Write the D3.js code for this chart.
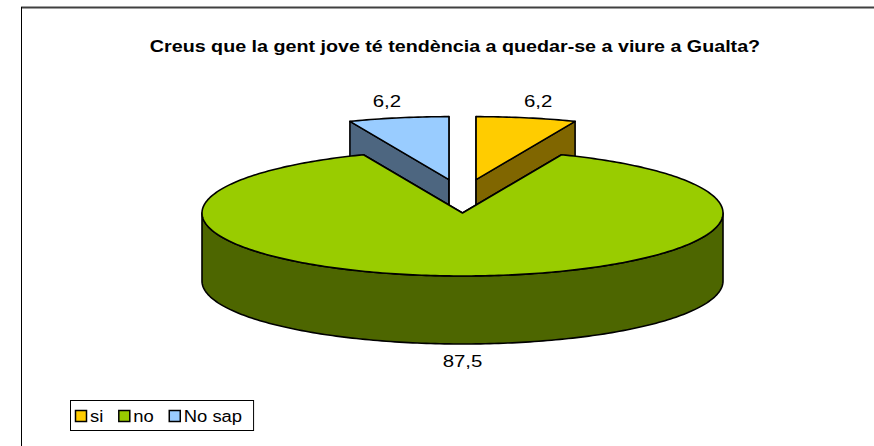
<!DOCTYPE html>
<head>
   <meta charset="utf-8">
   <script src="https://d3js.org/d3.v7.min.js"></script>
   <style>
   body{ margin:0; background:#fff; }
   text{
      font-family: "Liberation Sans", Arial, sans-serif;
      fill: #000;
   }
   text.title{ font-size:16px; font-weight:700; }
   text.valueLabel{ font-size:17px; }
   text.legendLabel{ font-size:16px; }
   path.face{ stroke:#000; stroke-width:1.6; stroke-linejoin:round; }
   </style>
</head>
<body>
<script>
// data
const categories  = ["si", "no", "No sap"];
const values      = [6.2, 87.5, 6.2];
const valueText   = ["6,2", "87,5", "6,2"];
const topColours  = ["#FFCC00", "#99CC00", "#99CCFF"];
const sideColours = ["#806600", "#4D6600", "#4D6680"];
const exploded    = [true, false, true];

const title = "Creus que la gent jove té tendència a quedar-se a viure a Gualta?";

const width = 874, height = 446;
const cx = 462.5, cy = 213;      // pie centre (top face)
const rx = 260.5, ry = 63;       // ellipse radii
const depth = 68;                // thickness of the pie
const explodeX = 70, explodeY = 34;

const svg = d3.select("body").append("svg")
   .attr("width", width)
   .attr("height", height);

// frame lines
svg.append("line")
   .attr("x1", 21).attr("x2", width).attr("y1", 7.5).attr("y2", 7.5)
   .attr("stroke", "#404040").attr("stroke-width", 2);
svg.append("line")
   .attr("x1", 21.5).attr("x2", 21.5).attr("y1", 7).attr("y2", height)
   .attr("stroke", "#000").attr("stroke-width", 1);

// text in the source looks horizontally stretched
function stretch(k){
   return sel => sel.each(function(){
      const w = this.getComputedTextLength();
      d3.select(this).attr("textLength", w*k).attr("lengthAdjust", "spacingAndGlyphs");
   });
}

svg.append("text")
   .attr("class", "title")
   .attr("x", 455)
   .attr("y", 52)
   .style("text-anchor", "middle")
   .text(title)
   .call(stretch(1.23));

const pie = d3.pie().sort(null).startAngle(0).endAngle(2*Math.PI);
const slices = pie(values).map((d,i) => {
   const mid = (d.startAngle + d.endAngle)/2;
   d.mid = mid;
   d.off = exploded[i]
      ? { x: explodeX*Math.sin(mid), y: -explodeY*Math.cos(mid) }
      : { x: 0, y: 0 };
   d.i = i;
   return d;
});

// projection: angle measured clockwise from the top
function pt(d, a, r, z){
   return [cx + d.off.x + r*rx*Math.sin(a), cy + d.off.y - r*ry*Math.cos(a) + z];
}
function arcPts(d, a0, a1, z){
   const n = Math.max(2, Math.ceil(Math.abs(a1-a0)/(Math.PI/180)));
   return d3.range(n+1).map(k => pt(d, a0 + (a1-a0)*k/n, 1, z));
}
const line = d3.line();

const g = svg.append("g");

// back slices first
slices.slice().sort((a,b) => -Math.cos(a.mid) - -Math.cos(b.mid)).forEach(d => {
   const sg = g.append("g");
   // radial walls
   [d.startAngle, d.endAngle].forEach(a => {
      sg.append("path").attr("class", "face")
         .attr("d", line([pt(d,a,0,0), pt(d,a,1,0), pt(d,a,1,depth), pt(d,a,0,depth)]) + "Z")
         .attr("fill", sideColours[d.i]);
   });
   // outer wall, front half only
   const a0 = Math.max(d.startAngle, Math.PI/2), a1 = Math.min(d.endAngle, 3*Math.PI/2);
   if (a1 > a0){
      const top = arcPts(d, a0, a1, 0);
      const bottom = arcPts(d, a1, a0, depth);
      sg.append("path").attr("class", "face")
         .attr("d", line(top.concat(bottom)) + "Z")
         .attr("fill", sideColours[d.i]);
   }
   // top face
   sg.append("path").attr("class", "face")
      .attr("d", line([pt(d,0,0,0)].concat(arcPts(d, d.startAngle, d.endAngle, 0))) + "Z")
      .attr("fill", topColours[d.i]);
});

// value labels
svg.selectAll("text.valueLabel")
   .data(slices)
   .enter()
   .append("text")
   .attr("class", "valueLabel")
   .attr("x", d => cx + d.off.x + (rx+60)*Math.sin(d.mid))
   .attr("y", d => cy + d.off.y - (ry+17)*Math.cos(d.mid) + (Math.cos(d.mid) < 0 ? depth : 0) + 6)
   .style("text-anchor", "middle")
   .text(d => valueText[d.i])
   .call(stretch(1.2));

// legend
const legend = svg.append("g");
const box = legend.append("rect")
   .attr("y", 400.5).attr("height", 30)
   .attr("x", 70.5)
   .attr("fill", "#fff").attr("stroke", "#000").attr("stroke-width", 1);
let lx = 75;
categories.forEach((c,i) => {
   legend.append("rect")
      .attr("x", lx + 0.5).attr("y", 410.5)
      .attr("width", 11).attr("height", 11)
      .attr("fill", topColours[i]).attr("stroke", "#000").attr("stroke-width", 1.5);
   const t = legend.append("text")
      .attr("class", "legendLabel")
      .attr("x", lx + 15)
      .attr("y", 422)
      .text(c)
      .call(stretch(1.15));
   lx += 15 + (+t.attr("textLength")) + 15;
});
box.attr("width", lx - 15 + 11 - 70);
</script>
</body>
